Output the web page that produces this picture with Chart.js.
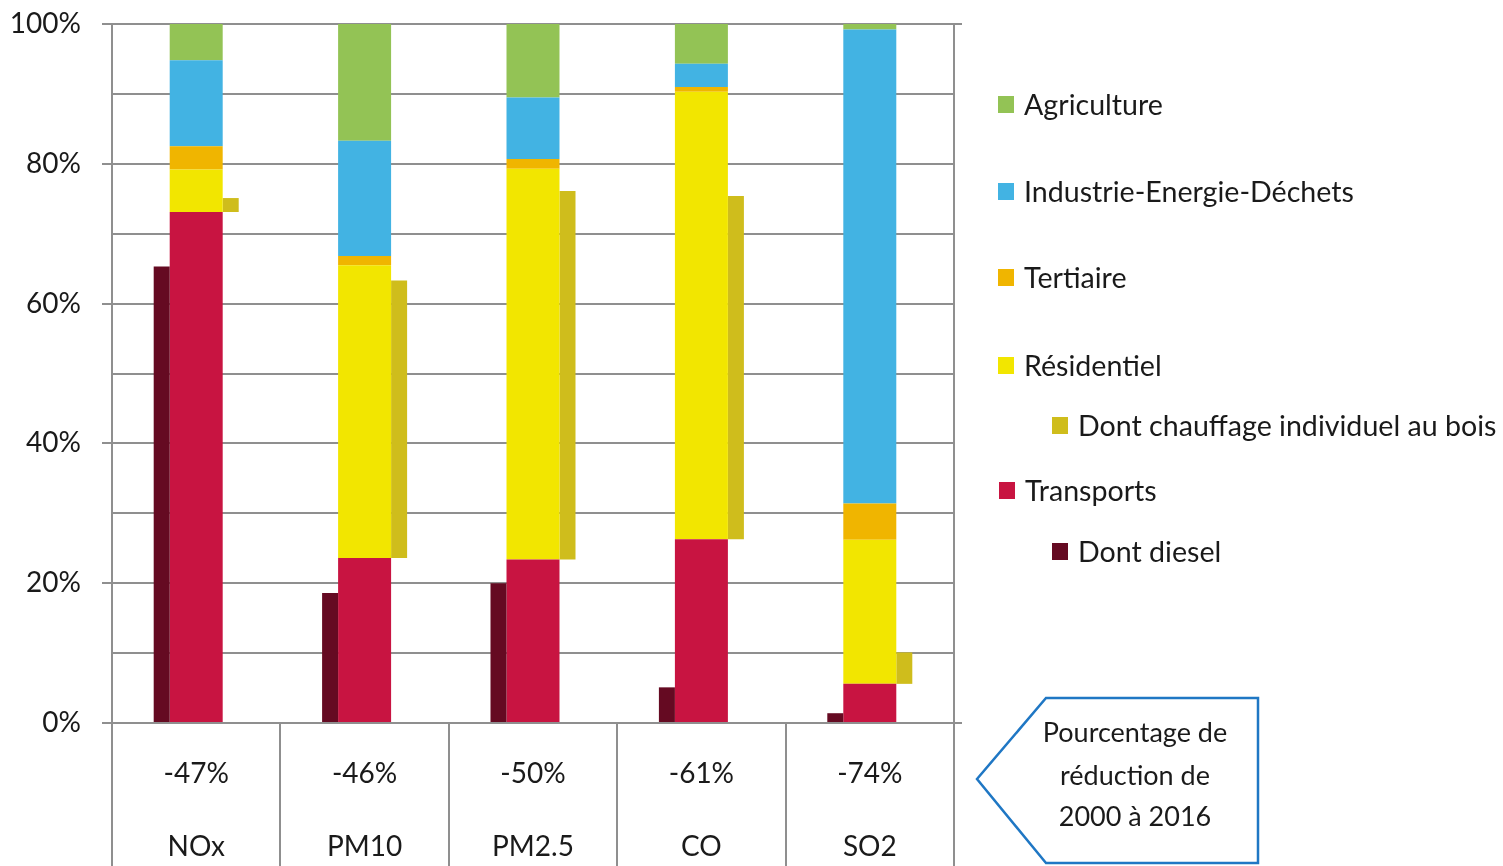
<!DOCTYPE html>
<html lang="fr">
<head>
<meta charset="utf-8">
<title>Répartition des émissions par secteur</title>
<script src="https://cdn.jsdelivr.net/npm/chart.js@4/dist/chart.umd.min.js"></script>
<style>
  html, body { margin: 0; padding: 0; background: #fff; }
  #wrap { position: relative; width: 1503px; height: 866px; overflow: hidden; font-family: Lato, "Open Sans", sans-serif; color: #1a1a1a; }
  #chart { position: absolute; left: 0; top: 0; }
  .leg { position: absolute; display: flex; align-items: center; font-size: 28.6px; line-height: 1; white-space: nowrap; }
  .leg i { display: inline-block; width: 16px; height: 17px; margin-right: 10px; }
  #note { position: absolute; left: 0; top: 0; }
  .noteText { position: absolute; left: 1030px; width: 210px; text-align: center; font-size: 27px; line-height: 1; }
</style>
</head>
<body>
<div id="wrap">
  <canvas id="chart" width="1503" height="866"></canvas>
  <div id="legend"></div>
  <svg id="note" width="1503" height="866">
    <polygon points="977,779 1046,698 1258,698 1258,863 1046,863" fill="#fff" stroke="#1f77c4" stroke-width="2.5" stroke-linejoin="miter"/>
  </svg>
  <div class="noteText" style="top:718px">Pourcentage de</div>
  <div class="noteText" style="top:761px">réduction de</div>
  <div class="noteText" style="top:802px">2000 à 2016</div>
</div>
<script>
// Polluants et baisse des émissions entre 2000 et 2016
const categories = ['NOx', 'PM10', 'PM2.5', 'CO', 'SO2'];
const reductions = ['-47%', '-46%', '-50%', '-61%', '-74%'];

// Part de chaque secteur dans les émissions (%)
const transports  = [73.1, 23.6, 23.4, 26.3, 5.6];
const residentiel = [6.1, 41.9, 55.9, 64.0, 20.6];
const tertiaire   = [3.3, 1.3, 1.4, 0.7, 5.2];
const industrie   = [12.3, 16.5, 8.8, 3.3, 67.8];
const agriculture = [5.2, 16.7, 10.5, 5.7, 0.8];

// Sous-parts : diesel (dans les transports), chauffage au bois (dans le résidentiel)
const dontDiesel = [65.3, 18.6, 20.0, 5.1, 1.4];
const dontBois   = [2.0, 39.7, 52.7, 49.1, 4.5];

const yTicks = [0, 20, 40, 60, 80, 100];

const colors = {
  agriculture: '#93c355',
  industrie: '#42b3e3',
  tertiaire: '#f0b500',
  residentiel: '#f2e600',
  bois: '#cfbd1c',
  transports: '#c81441',
  diesel: '#650a22'
};

const gridColor = '#8f8f8f';
const clear = 'rgba(0,0,0,0)';
const FONT = 'Lato';

// Narrow side bars sit right next to the main stacked bar
const side = { categoryPercentage: 0.6146, barPercentage: 0.464 };
const main = { categoryPercentage: 1.0, barPercentage: 0.944 };

const datasets = [
  { label: 'Dont diesel', data: dontDiesel, backgroundColor: colors.diesel, stack: 'diesel', ...side },
  { label: 'Transports', data: transports, backgroundColor: colors.transports, stack: 'main', ...main },
  { label: 'Résidentiel', data: residentiel, backgroundColor: colors.residentiel, stack: 'main', ...main },
  { label: 'Tertiaire', data: tertiaire, backgroundColor: colors.tertiaire, stack: 'main', ...main },
  { label: 'Industrie-Energie-Déchets', data: industrie, backgroundColor: colors.industrie, stack: 'main', ...main },
  { label: 'Agriculture', data: agriculture, backgroundColor: colors.agriculture, stack: 'main', ...main },
  // wood heating share floats on top of the transport share
  { label: 'Dont chauffage individuel au bois', data: transports.map((t, i) => [t, t + dontBois[i]]),
    backgroundColor: colors.bois, stack: 'bois', ...side }
];

const tenSteps = (scale) => {
  scale.ticks = [];
  for (let v = 0; v <= 100; v += 10) scale.ticks.push({ value: v });
};

new Chart(document.getElementById('chart'), {
  type: 'bar',
  data: {
    labels: categories.map((c, i) => [reductions[i], c]),
    datasets
  },
  options: {
    responsive: false,
    animation: false,
    layout: { padding: { top: 24, right: 549, bottom: 0, left: 0 } },
    plugins: { legend: { display: false }, tooltip: { enabled: false } },
    scales: {
      x: {
        stacked: true,
        grid: {
          offset: true,
          drawOnChartArea: false,
          drawTicks: true,
          tickLength: 143,
          color: gridColor,
          lineWidth: 2
        },
        border: { display: true, color: gridColor, width: 2 },
        ticks: {
          padding: -128.5,
          color: '#1a1a1a',
          font: { family: FONT, size: 28, lineHeight: '73px' },
          maxRotation: 0,
          autoSkip: false
        },
        afterFit(scale) { scale.height = 143; }
      },
      y: {
        stacked: true,
        min: 0,
        max: 100,
        afterBuildTicks: tenSteps,
        ticks: {
          padding: 21,
          color: '#1a1a1a',
          font: { family: FONT, size: 28 },
          callback: (v) => yTicks.includes(v) ? v + '%' : ''
        },
        grid: {
          color: gridColor,
          lineWidth: 2,
          drawTicks: true,
          tickLength: 10,
          tickColor: (ctx) => (ctx.tick && yTicks.includes(ctx.tick.value)) ? gridColor : clear
        },
        border: { display: true, color: gridColor, width: 2 },
        afterFit(scale) {
          scale.width = 112;
          scale.paddingTop = 0;
          scale.paddingBottom = 0;
        }
      },
      y2: {
        position: 'right',
        min: 0,
        max: 100,
        afterBuildTicks: tenSteps,
        ticks: { display: false },
        grid: {
          drawOnChartArea: false,
          drawTicks: true,
          tickLength: 8,
          lineWidth: 2,
          tickColor: (ctx) => (ctx.tick && (ctx.tick.value === 0 || ctx.tick.value === 100)) ? gridColor : clear
        },
        border: { display: true, color: gridColor, width: 2 },
        afterFit(scale) {
          scale.width = 0;
          scale.paddingTop = 0;
          scale.paddingBottom = 0;
        }
      }
    }
  }
});

// Legend, listed top to bottom with the sub-shares indented
const legendItems = [
  { text: 'Agriculture', color: colors.agriculture, x: 998, y: 104 },
  { text: 'Industrie-Energie-Déchets', color: colors.industrie, x: 998, y: 191 },
  { text: 'Tertiaire', color: colors.tertiaire, x: 998, y: 277 },
  { text: 'Résidentiel', color: colors.residentiel, x: 998, y: 365 },
  { text: 'Dont chauffage individuel au bois', color: colors.bois, x: 1052, y: 425 },
  { text: 'Transports', color: colors.transports, x: 999, y: 490 },
  { text: 'Dont diesel', color: colors.diesel, x: 1052, y: 551 }
];
const legendEl = document.getElementById('legend');
legendItems.forEach((it) => {
  const row = document.createElement('div');
  row.className = 'leg';
  row.style.left = it.x + 'px';
  row.style.top = (it.y - 16) + 'px';
  row.style.height = '32px';
  const sw = document.createElement('i');
  sw.style.background = it.color;
  const span = document.createElement('span');
  span.textContent = it.text;
  row.appendChild(sw);
  row.appendChild(span);
  legendEl.appendChild(row);
});
</script>
</body>
</html>
